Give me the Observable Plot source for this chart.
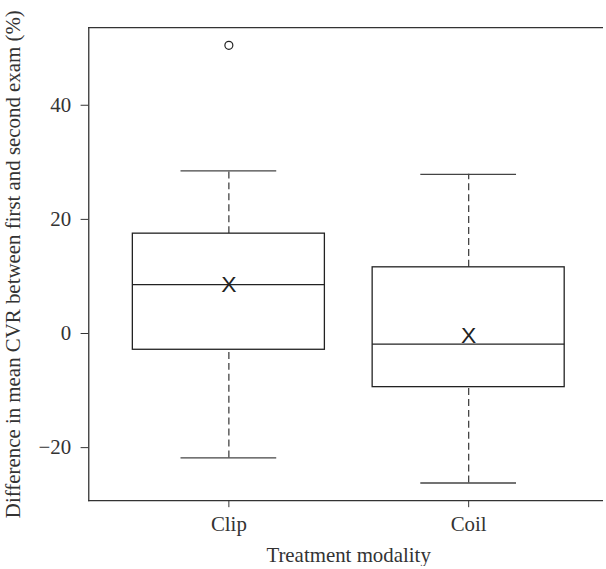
<!DOCTYPE html>
<html>
<head>
<meta charset="utf-8">
<script src="https://cdn.jsdelivr.net/npm/d3@7"></script>
<script src="https://cdn.jsdelivr.net/npm/@observablehq/plot@0.6"></script>
<style>
  html, body { margin: 0; padding: 0; background: #fff; overflow: hidden; }
  #chart { width: 603px; height: 569px; overflow: hidden; }
  #chart svg { display: block; }
</style>
</head>
<body>
<div id="chart"></div>
<script>
// Data
const categories = ["Clip", "Coil"];
const lowerWhisker = [-21.8, -26.2];
const q1 = [-2.85, -9.4];
const median = [8.55, -1.85];
const q3 = [17.5, 11.6];
const upperWhisker = [28.5, 27.9];
const means = [8.6, -0.4];
const outlierCats = ["Clip"];
const outlierValues = [50.5];
const yTicks = [-20, 0, 20, 40];

const boxes = categories.map((c, i) => ({
  cat: c, lo: lowerWhisker[i], q1: q1[i], med: median[i], q3: q3[i], hi: upperWhisker[i], mean: means[i]
}));
const outliers = outlierCats.map((c, i) => ({cat: c, value: outlierValues[i]}));

const serif = "'Liberation Serif', 'Times New Roman', serif";
const ink = "#222";
const frameStyle = {stroke: "#333", strokeWidth: 1.3};

const chart = Plot.plot({
  width: 606,
  height: 569,
  marginLeft: 88.7,
  marginRight: -5,
  marginTop: 27.3,
  marginBottom: 66.3,
  style: {fontFamily: serif, fontSize: "21px", color: "#333", background: "#fff"},
  x: {type: "band", domain: categories, paddingInner: 0.2, paddingOuter: 0.18},
  y: {domain: [-29.3, 53.6]},
  marks: [
    Plot.frame({anchor: "left", ...frameStyle}),
    Plot.frame({anchor: "top", ...frameStyle}),
    Plot.frame({anchor: "bottom", ...frameStyle}),
    Plot.axisY(yTicks, {tickSize: 7.7, tickPadding: 10, fontSize: 21, stroke: "#333",
      label: "Difference in mean CVR between first and second exam (%)", labelAnchor: "center", labelArrow: "none", labelOffset: 84}),
    Plot.axisX({tickSize: 7, tickPadding: 9, fontSize: 21, stroke: "#333",
      label: "Treatment modality", labelAnchor: "center", labelArrow: "none", labelOffset: 62}),
    // whiskers (dashed)
    Plot.ruleX(boxes, {x: "cat", y1: "q3", y2: "hi", stroke: "#444", strokeWidth: 1.3, strokeDasharray: "7,4"}),
    Plot.ruleX(boxes, {x: "cat", y1: "lo", y2: "q1", stroke: "#444", strokeWidth: 1.3, strokeDasharray: "7,4"}),
    // whisker caps (half box width)
    Plot.tickY(boxes, {x: "cat", y: "hi", stroke: "#444", strokeWidth: 1.3, insetLeft: 48.4, insetRight: 48.4}),
    Plot.tickY(boxes, {x: "cat", y: "lo", stroke: "#444", strokeWidth: 1.3, insetLeft: 48.4, insetRight: 48.4}),
    // boxes
    Plot.barY(boxes, {x: "cat", y1: "q1", y2: "q3", fill: "white", stroke: ink, strokeWidth: 1.3}),
    // medians
    Plot.tickY(boxes, {x: "cat", y: "med", stroke: ink, strokeWidth: 1.3}),
    // means
    Plot.text(boxes, {x: "cat", y: "mean", text: () => "X", fontSize: 23, fill: ink,
      fontFamily: "'Liberation Sans Narrow', 'Arial Narrow', 'Liberation Sans', Arial, sans-serif"}),
    // outliers
    Plot.dot(outliers, {x: "cat", y: "value", r: 4, stroke: ink, strokeWidth: 1.2, fill: "none"})
  ]
});
document.getElementById("chart").appendChild(chart);
</script>
</body>
</html>
